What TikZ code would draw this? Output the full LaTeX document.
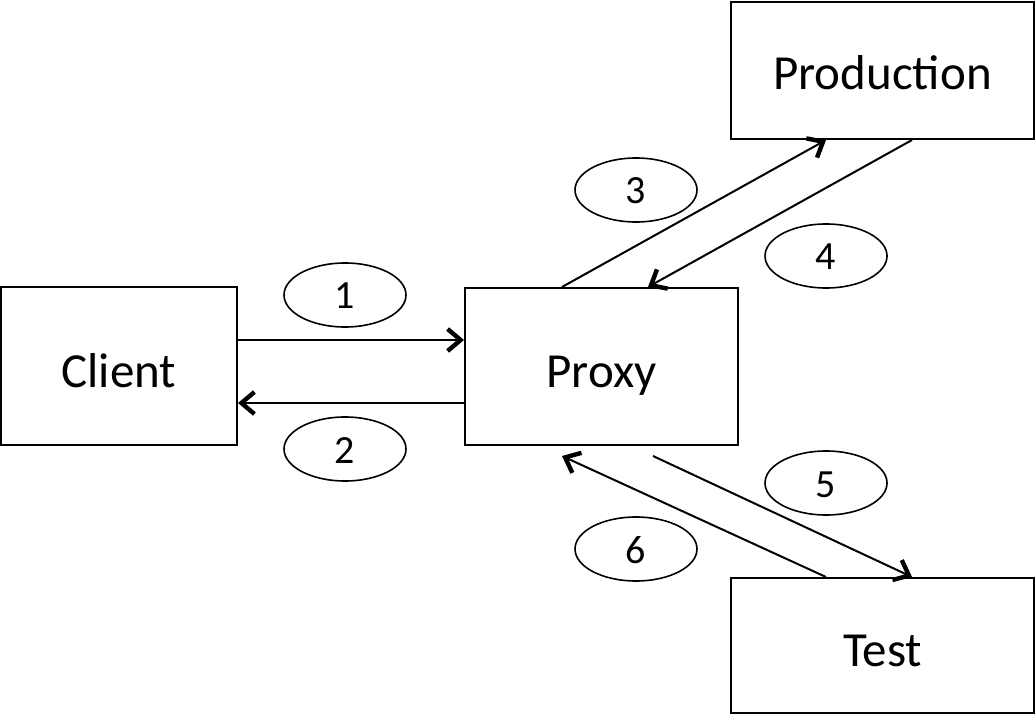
\documentclass[tikz,border=0pt]{standalone}
\usepackage{fontspec}
\setmainfont{Carlito}
\usetikzlibrary{shapes.geometric,arrows.meta,calc}
\begin{document}
\begin{tikzpicture}[x={0.5pt},y={-0.5pt},
  box/.style={draw, line width=1pt, inner sep=0pt, text height=21pt, text depth=0pt, font=\fontsize{24.5}{29}\selectfont},
  tag/.style={draw, ellipse, line width=0.8pt, inner sep=0pt, text height=14pt, text depth=0pt, minimum width=61pt, minimum height=32pt, font=\fontsize{20}{24}\selectfont},
  flow/.style={line width=1pt, -{Straight Barb[length=6.5pt,width=11pt,line width=2.2pt 0]}}
]
\useasboundingbox (0,0) rectangle (1036,715);
\node[box, minimum width=118pt, minimum height=79pt] (client) at (119,366) {Client};
\node[box, minimum width=136.5pt, minimum height=78.5pt] (proxy) at (601.5,366.5) {Proxy};
\node[box, minimum width=151.5pt, minimum height=68.5pt, text height=19.5pt] (prod) at (882.5,70.5) {Production};
\node[box, minimum width=151.5pt, minimum height=67.5pt] (test) at (882.5,645.5) {Test};

\node[tag] (t1) at (345,295) {1};
\node[tag] (t2) at (345,449) {2};
\node[tag] (t3) at (636,190) {3};
\node[tag] (t4) at (826,256) {4};
\node[tag] (t5) at (826,483) {5};
\node[tag] (t6) at (636,549) {6};

\draw[flow] ($(client.east)+(0,-26)$) -- ($(proxy.west)+(0,-26.5)$);
\draw[flow] ($(proxy.west)+(0,36.5)$) -- ($(client.east)+(0,37)$);
\draw[flow] ($(proxy.north)+(-39.5,0)$) -- ($(prod.south)+(-56.5,0)$);
\draw[flow] ($(prod.south)+(29.5,0)$) -- ($(proxy.north)+(46.5,0)$);
\draw[flow] ($(proxy.south)+(51.5,10)$) -- ($(test.north)+(29.5,0)$);
\draw[flow] ($(test.north)+(-56.5,0)$) -- ($(proxy.south)+(-39.5,10)$);
\end{tikzpicture}
\end{document}
